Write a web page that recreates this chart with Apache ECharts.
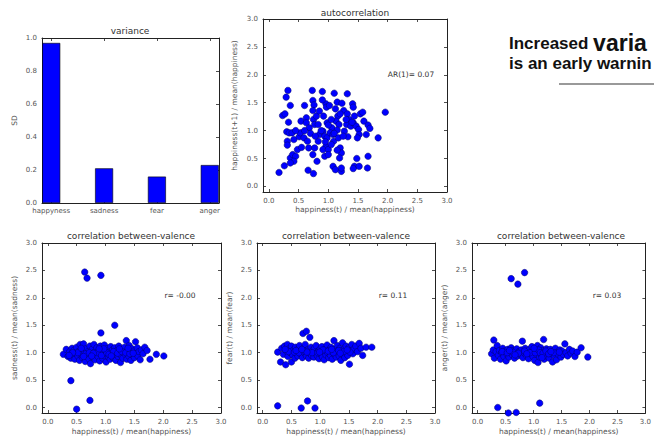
<!DOCTYPE html>
<html><head><meta charset="utf-8">
<script src="https://cdn.jsdelivr.net/npm/echarts@6/dist/echarts.min.js"></script>
<style>html,body{margin:0;padding:0;background:#fff}#c{width:654px;height:439px}</style>
</head><body><div id="c"></div>
<script>
const categories = ['happyness','sadness','fear','anger'];
const sdValues = [0.97, 0.21, 0.16, 0.23];
const sdTicks = [0, 0.2, 0.4, 0.6, 0.8, 1.0];
const ratioTicks = [0, 0.5, 1.0, 1.5, 2.0, 2.5, 3.0];

const autoPoints = [[0.17,0.25],[0.26,0.37],[0.32,1.72],[0.29,1.60],[0.23,1.27],[0.27,1.30],[0.36,1.45],[0.33,1.15],[0.30,0.98],[0.34,0.96],[0.31,0.81],[0.31,0.74],[0.39,0.96],[0.42,0.84],[0.36,0.51],[0.40,0.57],[0.45,0.54],[0.42,0.45],[0.36,0.42],[0.48,0.66],[0.51,0.89],[0.54,1.17],[0.53,0.96],[0.59,0.87],[0.60,1.45],[0.63,1.23],[0.63,1.14],[0.65,0.81],[0.68,1.05],[0.67,0.69],[0.66,0.29],[0.73,1.72],[0.74,1.54],[0.76,1.46],[0.74,1.36],[0.75,1.20],[0.77,1.11],[0.80,1.26],[0.83,1.11],[0.75,0.23],[0.74,0.57],[0.77,0.69],[0.81,0.45],[0.83,0.81],[0.85,0.93],[0.90,1.70],[0.96,1.48],[0.97,1.42],[0.92,1.26],[0.98,1.14],[0.91,0.99],[0.94,0.90],[0.98,0.87],[0.96,0.72],[0.91,0.66],[1.00,0.66],[0.94,0.54],[1.00,0.57],[1.06,1.05],[1.03,0.96],[1.08,0.93],[1.09,0.81],[1.08,0.36],[1.12,0.30],[1.10,1.67],[1.15,1.51],[1.12,1.39],[1.16,1.26],[1.13,1.17],[1.18,1.11],[1.15,1.01],[1.17,0.87],[1.20,0.69],[1.22,0.60],[1.19,0.51],[1.22,0.27],[1.22,0.33],[1.23,1.49],[1.26,1.36],[1.32,1.66],[1.32,1.30],[1.35,1.20],[1.31,1.11],[1.33,0.89],[1.27,0.99],[1.38,1.08],[1.41,1.48],[1.42,1.42],[1.44,1.26],[1.42,1.14],[1.47,1.08],[1.51,1.02],[1.52,0.93],[1.49,0.87],[1.44,0.36],[1.42,0.32],[1.52,0.36],[1.54,1.30],[1.58,1.33],[1.60,1.17],[1.64,0.93],[1.67,1.10],[1.70,1.04],[1.67,0.54],[1.66,0.33],[1.84,0.87],[1.96,1.33],[1.00,1.10],[1.05,1.20],[0.88,1.00],[1.10,0.95],[0.70,0.95],[0.60,1.00],[1.30,1.20],[1.40,1.15],[1.20,1.30],[0.95,0.80],[1.05,0.75],[0.85,1.35],[0.55,0.70],[0.45,1.00],[1.15,0.65],[1.25,0.90],[1.48,0.50],[0.90,1.55],[0.78,0.90],[1.02,1.45]];

const sadnessPoints = [[0.27,0.97],[0.32,1.06],[0.35,0.93],[0.38,1.02],[0.40,0.90],[0.42,1.08],[0.44,0.96],[0.45,1.04],[0.47,0.88],[0.48,0.99],[0.50,1.10],[0.52,0.94],[0.53,1.02],[0.55,0.86],[0.56,1.15],[0.58,0.97],[0.60,1.05],[0.60,0.91],[0.62,1.16],[0.63,0.99],[0.65,0.84],[0.66,1.07],[0.68,0.95],[0.70,1.02],[0.71,0.89],[0.73,1.12],[0.74,0.80],[0.75,0.98],[0.77,1.06],[0.78,0.92],[0.80,1.15],[0.81,1.01],[0.82,0.87],[0.84,0.96],[0.85,1.09],[0.87,0.93],[0.88,1.03],[0.90,0.85],[0.91,1.12],[0.92,0.98],[0.94,1.06],[0.95,0.90],[0.96,1.00],[0.98,1.14],[0.99,0.94],[1.00,1.04],[1.01,0.83],[1.03,0.99],[1.04,1.08],[1.05,0.92],[1.07,1.02],[1.08,0.88],[1.09,1.11],[1.11,0.97],[1.12,1.05],[1.13,0.91],[1.15,1.00],[1.16,1.09],[1.18,0.86],[1.19,0.96],[1.20,1.04],[1.22,0.93],[1.23,1.12],[1.25,1.00],[1.26,0.82],[1.27,0.95],[1.29,1.06],[1.30,0.90],[1.31,1.01],[1.33,1.10],[1.34,0.97],[1.36,1.22],[1.37,0.88],[1.38,1.04],[1.40,0.94],[1.41,1.13],[1.43,1.00],[1.44,0.86],[1.46,1.07],[1.47,0.96],[1.49,1.03],[1.50,0.91],[1.52,1.20],[1.53,0.99],[1.55,1.09],[1.56,0.94],[1.58,1.02],[1.60,0.87],[1.62,1.05],[1.65,0.98],[1.68,1.10],[1.72,1.04],[1.77,0.88],[1.88,0.97],[2.01,0.94],[0.52,1.00],[0.66,0.98],[0.72,1.00],[0.86,1.00],[0.93,0.95],[1.02,1.00],[1.06,0.97],[1.14,1.02],[1.21,0.99],[1.28,1.02],[1.35,1.00],[1.42,0.98],[0.58,1.08],[0.79,0.99],[0.97,1.07],[1.10,0.94],[1.24,1.07],[1.39,1.08],[1.48,0.99],[0.43,1.00],[0.37,0.95],[0.62,0.93],[0.76,0.94],[0.89,1.07],[0.64,2.47],[0.68,2.36],[0.92,2.41],[1.16,1.50],[0.92,1.36],[0.40,0.49],[0.73,0.13],[0.50,-0.03]];

const fearPoints = [[0.26,1.01],[0.31,0.83],[0.33,1.08],[0.36,0.97],[0.38,1.12],[0.40,0.78],[0.41,1.03],[0.43,1.15],[0.44,0.93],[0.46,1.07],[0.48,1.00],[0.50,0.83],[0.50,1.12],[0.52,0.96],[0.54,1.05],[0.56,0.90],[0.57,1.10],[0.59,1.00],[0.61,0.94],[0.62,1.07],[0.64,1.13],[0.66,0.98],[0.67,1.04],[0.69,0.91],[0.70,1.35],[0.71,1.08],[0.73,0.99],[0.74,1.15],[0.76,1.39],[0.76,0.94],[0.78,1.05],[0.80,0.90],[0.82,1.28],[0.82,1.01],[0.84,1.10],[0.85,0.95],[0.87,1.04],[0.89,0.92],[0.90,1.08],[0.92,0.99],[0.93,1.13],[0.95,0.94],[0.97,1.03],[0.98,0.89],[1.00,1.07],[1.01,0.97],[1.03,1.11],[1.04,0.92],[1.06,1.02],[1.07,0.87],[1.09,1.06],[1.10,0.96],[1.12,1.14],[1.13,1.00],[1.15,0.91],[1.16,1.05],[1.18,0.95],[1.19,1.10],[1.21,0.88],[1.22,1.01],[1.24,1.22],[1.25,0.97],[1.27,1.06],[1.28,0.92],[1.30,1.13],[1.31,1.00],[1.33,0.94],[1.34,1.08],[1.36,0.86],[1.37,1.03],[1.39,1.18],[1.40,0.97],[1.42,1.07],[1.43,0.91],[1.45,1.12],[1.46,1.00],[1.48,0.95],[1.50,1.09],[1.51,0.79],[1.53,1.04],[1.55,1.15],[1.57,0.98],[1.59,1.07],[1.62,1.12],[1.65,1.02],[1.68,1.17],[1.71,1.08],[1.74,0.95],[1.80,1.10],[1.90,1.10],[0.45,1.02],[0.55,1.01],[0.63,1.00],[0.72,1.03],[0.86,1.00],[0.96,1.00],[1.05,1.05],[1.14,1.03],[1.23,1.00],[1.32,1.04],[1.41,1.02],[1.52,1.01],[0.39,1.06],[0.58,1.04],[0.77,1.01],[0.99,1.01],[1.20,1.06],[1.35,0.99],[1.47,1.05],[0.68,1.06],[0.26,0.03],[0.67,-0.01],[0.78,0.12],[0.91,-0.01]];

const angerPoints = [[0.25,0.98],[0.28,1.05],[0.29,1.23],[0.30,0.90],[0.33,1.02],[0.35,1.13],[0.37,0.95],[0.39,1.04],[0.41,0.88],[0.43,1.00],[0.45,1.08],[0.47,0.93],[0.49,1.03],[0.51,0.85],[0.52,0.98],[0.54,1.06],[0.56,0.92],[0.58,1.01],[0.60,1.09],[0.62,0.96],[0.64,1.04],[0.66,0.90],[0.68,1.00],[0.70,1.07],[0.72,0.94],[0.74,1.02],[0.76,0.97],[0.78,1.05],[0.80,1.21],[0.81,0.91],[0.83,1.00],[0.85,1.08],[0.87,0.95],[0.89,1.03],[0.91,0.89],[0.93,1.06],[0.95,0.98],[0.97,1.11],[0.99,0.93],[1.00,1.02],[1.02,0.86],[1.04,1.07],[1.05,0.97],[1.07,1.13],[1.08,0.82],[1.10,1.01],[1.11,0.92],[1.13,1.09],[1.14,0.96],[1.16,1.04],[1.18,1.24],[1.19,0.88],[1.21,1.00],[1.23,1.07],[1.24,0.94],[1.26,1.03],[1.28,0.90],[1.30,1.06],[1.32,0.98],[1.34,0.83],[1.35,1.02],[1.37,0.95],[1.39,1.08],[1.41,0.87],[1.43,1.01],[1.45,0.96],[1.47,1.05],[1.49,0.92],[1.51,1.03],[1.53,0.97],[1.56,1.16],[1.58,1.00],[1.61,0.94],[1.64,1.06],[1.67,0.99],[1.70,1.03],[1.74,0.93],[1.78,1.01],[1.85,1.09],[1.97,0.92],[0.44,1.02],[0.53,1.00],[0.63,1.01],[0.73,0.99],[0.84,1.03],[0.94,1.00],[1.03,1.00],[1.09,1.05],[1.12,1.00],[1.17,0.99],[1.22,1.03],[1.27,0.98],[1.36,1.00],[1.46,1.01],[0.57,1.04],[0.67,0.96],[0.88,0.98],[1.01,1.08],[1.15,0.91],[1.31,1.02],[0.60,2.35],[0.72,2.25],[0.84,2.46],[1.11,0.08],[0.36,0.00],[0.55,-0.10],[0.69,-0.09]];

const FONT = 'DejaVu Sans';
const AX = '#222';
const grids = [
  {left:42, top:38, width:177, height:165},
  {left:263, top:19, width:184, height:173},
  {left:42, top:243, width:179, height:170},
  {left:257, top:243, width:178, height:170},
  {left:472, top:243, width:178, height:170}
];
const tick = (vals) => ({show:true, inside:true, length:3, customValues:vals, lineStyle:{color:AX, width:0.8}});
const line = {show:true, onZero:false, lineStyle:{color:AX, width:1}};
const lbl = (vals, fmt, extra) => Object.assign({show:true, customValues:vals, formatter:fmt, fontSize:7, color:'#555', fontFamily:FONT, margin:5}, extra||{});
const nameStyle = {fontSize:7.5, color:'#555', fontFamily:FONT};

const xAxis = [], yAxis = [];
function addX(gi, min, max, vals, fmt, name, gap, lblExtra) {
  xAxis.push({type:'value', gridIndex:gi, min, max, position:'bottom', axisLine:line, axisTick:tick(vals),
    axisLabel:lbl(vals, fmt, lblExtra), splitLine:{show:false}, name, nameLocation:'middle', nameGap:gap, nameTextStyle:nameStyle});
  xAxis.push({type:'value', gridIndex:gi, min, max, position:'top', axisLine:line, axisTick:tick(vals),
    axisLabel:{show:false}, splitLine:{show:false}});
}
function addY(gi, min, max, vals, fmt, name, gap) {
  yAxis.push({type:'value', gridIndex:gi, min, max, position:'left', axisLine:line, axisTick:tick(vals),
    axisLabel:lbl(vals, fmt), splitLine:{show:false}, name, nameLocation:'middle', nameGap:gap, nameTextStyle:nameStyle});
  yAxis.push({type:'value', gridIndex:gi, min, max, position:'right', axisLine:line, axisTick:tick(vals),
    axisLabel:{show:false}, splitLine:{show:false}});
}
const f1 = v => v.toFixed(1);
const barPos = categories.map((c, i) => i + 0.175);
addX(0, 0, 3.35, barPos, v => categories[Math.round(v - 0.175)], '', 0, {margin:4});
addY(0, 0, 1.0, sdTicks, f1, 'SD', 24);
const xName = 'happiness(t) / mean(happiness)';
addX(1, -0.1, 3.0, ratioTicks, f1, xName, 13); addY(1, -0.1, 3.0, ratioTicks, f1, 'happiness(t+1) / mean(happiness)', 25);
addX(2, -0.1, 3.0, ratioTicks, f1, xName, 14); addY(2, -0.1, 3.0, ratioTicks, f1, 'sadness(t) / mean(sadness)', 24);
addX(3, -0.1, 3.0, ratioTicks, f1, xName, 14); addY(3, -0.1, 3.0, ratioTicks, f1, 'fear(t) / mean(fear)', 24);
addX(4, -0.1, 3.0, ratioTicks, f1, xName, 14); addY(4, -0.1, 3.0, ratioTicks, f1, 'anger(t) / mean(anger)', 24);

const dot = {color:'#0000ff', borderColor:'#000066', borderWidth:0.5, opacity:1};
const scat = (gi, data) => ({type:'scatter', xAxisIndex:2*gi, yAxisIndex:2*gi, data, symbolSize:6.5, itemStyle:dot, clip:true, silent:true});

const txt = (x, y, text, size, extra) => ({type:'text', x, y, silent:true,
  style:Object.assign({text, fontSize:size, fontFamily:FONT, fill:'#333', align:'center', verticalAlign:'middle'}, extra||{})});

const option = {
  animation:false,
  backgroundColor:'#fff',
  grid: grids.map(g => Object.assign({show:false, containLabel:false}, g)),
  xAxis, yAxis,
  series: [
    {type:'bar', xAxisIndex:0, yAxisIndex:0, barWidth:18, data: sdValues.map((v, i) => [barPos[i], v]),
     itemStyle:{color:'#0000ff', borderColor:'#000', borderWidth:0.6}, silent:true},
    scat(1, autoPoints), scat(2, sadnessPoints), scat(3, fearPoints), scat(4, angerPoints)
  ],
  graphic: [
    txt(130, 31, 'variance', 9),
    txt(355, 13, 'autocorrelation', 9),
    txt(131, 236, 'correlation between-valence', 9),
    txt(346, 236, 'correlation between-valence', 9),
    txt(561, 236, 'correlation between-valence', 9),
    txt(411, 74, 'AR(1)= 0.07', 7.5),
    txt(180, 295, 'r= -0.00', 7.5),
    txt(393, 295, 'r= 0.11', 7.5),
    txt(607, 295, 'r= 0.03', 7.5),
    {type:'text', x:509, y:43, silent:true,
     style:{text:'{a|Increased }{b|varia}', verticalAlign:'middle', align:'left',
       rich:{a:{fontSize:17, fontWeight:'bold', fontFamily:'Liberation Sans', fill:'#111'},
             b:{fontSize:23, fontWeight:'bold', fontFamily:'Liberation Sans', fill:'#111'}}}},
    {type:'text', x:509, y:63, silent:true,
     style:{text:'is an early warnin', fontSize:17, fontWeight:'bold', fontFamily:'Liberation Sans', fill:'#111', verticalAlign:'middle', align:'left'}},
    {type:'line', silent:true, shape:{x1:559, y1:84, x2:654, y2:84}, style:{stroke:'#999', lineWidth:2}}
  ]
};
const chart = echarts.init(document.getElementById('c'), null, {renderer:'svg'});
chart.setOption(option);
</script></body></html>
